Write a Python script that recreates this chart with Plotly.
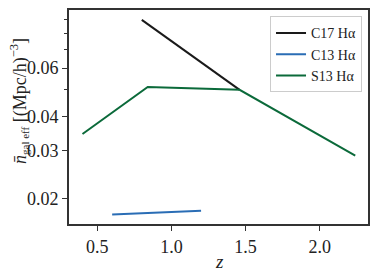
import plotly.graph_objects as go
import math

# Data
c17_z = [0.8, 1.46]
c17_n = [0.0900, 0.0500]
c13_z = [0.6, 1.2]
c13_n = [0.01754, 0.01809]
s13_z = [0.4, 0.84, 1.46, 2.24]
s13_n = [0.0345, 0.0512, 0.0500, 0.0288]

series_names = ["C17 Hα", "C13 Hα", "S13 Hα"]
colors = ["#1a1a1a", "#2a6db5", "#0b6a3a"]

y_ticks = [0.02, 0.03, 0.04, 0.06]
y_tick_labels = ["0.02", "0.03", "0.04", "0.06"]
y_minor = [0.05, 0.07, 0.08, 0.09]
x_ticks = [0.5, 1.0, 1.5, 2.0]
x_tick_labels = ["0.5", "1.0", "1.5", "2.0"]

FONT = "Liberation Serif"

fig = go.Figure()
for zs, ns, name, col in zip([c17_z, c13_z, s13_z], [c17_n, c13_n, s13_n], series_names, colors):
    fig.add_trace(go.Scatter(x=zs, y=ns, mode="lines", name=name,
                             line=dict(color=col, width=2)))

# page body has an 8px default margin, so the figure is 8px smaller
fig.update_layout(
    width=371, height=269,
    margin=dict(l=61, r=11, t=2, b=52.5, autoexpand=False),
    paper_bgcolor="white", plot_bgcolor="white",
    font=dict(family=FONT, size=18, color="#222"),
    showlegend=True,
    legend=dict(x=0.98, y=0.97, xanchor="right", yanchor="top",
                bgcolor="white", bordercolor="#cccccc", borderwidth=1,
                font=dict(family=FONT, size=14, color="#222"),
                tracegroupgap=0, itemwidth=30),
)
fig.update_xaxes(
    range=[0.309, 2.326], tickvals=x_ticks, ticktext=x_tick_labels,
    ticks="outside", ticklen=5, tickwidth=1.2, tickcolor="#333",
    showline=True, linecolor="#333", linewidth=2, mirror=True,
    showgrid=False, zeroline=False, automargin=False,
)
fig.update_yaxes(
    type="log", range=[math.log10(0.0162), math.log10(0.0978)],
    tickvals=y_ticks, ticktext=y_tick_labels,
    ticks="outside", ticklen=5, tickwidth=1.2, tickcolor="#333",
    minor=dict(tickvals=y_minor, ticks="outside", ticklen=3, tickwidth=1, tickcolor="#333"),
    showline=True, linecolor="#333", linewidth=2, mirror=True,
    showgrid=False, zeroline=False, automargin=False,
)
fig.add_annotation(
    text="<i>z</i>", xref="paper", yref="paper", x=0.5, y=0,
    xanchor="center", yanchor="middle", yshift=-37.5, xshift=1,
    showarrow=False, font=dict(family=FONT, size=19, color="#222"),
)
fig.add_annotation(
    text="<i>n̄</i><sub><span style='font-size:11px'>gal eff</span></sub> [(Mpc/h)<sup>−3</sup>]",
    textangle=-90, xref="paper", yref="paper", x=0, y=0.5,
    xanchor="center", yanchor="middle", xshift=-50, yshift=16,
    showarrow=False, font=dict(family=FONT, size=18, color="#222"),
)
fig.write_html("out.html")
